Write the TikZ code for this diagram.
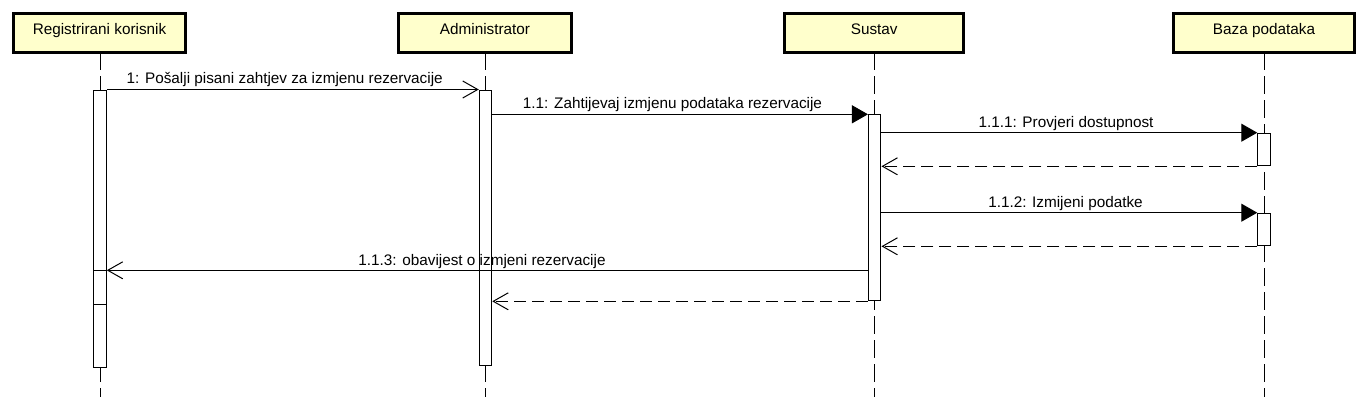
\documentclass[tikz,border=0pt]{standalone}
\usepackage{fontspec}
\setmainfont{Liberation Sans}
\usetikzlibrary{arrows.meta}
\definecolor{umlyellow}{HTML}{FFFFCC}
\begin{document}
\begin{tikzpicture}[x=1pt,y=-1pt,
  txt/.style={font=\fontsize{15.3}{18}\selectfont},
  actorbox/.style={draw, line width=3pt, fill=umlyellow, txt, inner sep=0pt,
    minimum height=38.7pt, text height=11pt, text depth=8.3pt},
  actbar/.style={draw, fill=white, line width=1pt, inner sep=0pt, minimum width=12.5pt, anchor=north},
  lifeline/.style={line width=1pt, dash pattern=on 18pt off 6pt},
  lbl/.style={txt, inner sep=0pt, anchor=base},
  synmsg/.style={line width=1pt, -{Triangle[length=16pt,width=18pt]}},
  openmsg/.style={line width=1pt, -{Straight Barb[length=15pt,width=17pt,line width=1pt]}},
  retmsg/.style={line width=1pt, dash pattern=on 12pt off 6pt, -{Straight Barb[length=15pt,width=17pt,line width=1pt,sep=0pt]}},
]
\useasboundingbox (0,0) rectangle (1368,410);
\fill[white] (0,0) rectangle (1368,410);

% lifelines
\coordinate (lR) at (100,52);   \coordinate (eR) at (100,397);
\coordinate (lA) at (485.5,52); \coordinate (eA) at (485.5,397);
\coordinate (lS) at (874.7,52); \coordinate (eS) at (874.7,397);
\coordinate (lB) at (1264,52);  \coordinate (eB) at (1264,397);
\draw[lifeline] (lR) -- (eR);
\draw[lifeline] (lA) -- (eA);
\draw[lifeline] (lS) -- (eS);
\draw[lifeline] (lB) -- (eB);

% actor boxes
\node[actorbox, minimum width=171.4pt] (R) at (99.5,33.15) {Registrirani korisnik};
\node[actorbox, minimum width=173.4pt] (A) at (485,33.15) {Administrator};
\node[actorbox, minimum width=178.7pt] (S) at (874.2,33.15) {Sustav};
\node[actorbox, minimum width=181pt] (B) at (1264,33.15) {Baza podataka};

% activation bars
\node[actbar, minimum height=277pt] (aR) at (100,89.5) {};
\node[actbar, minimum height=34pt] (aR2) at (100,270.3) {};
\node[actbar, minimum height=275pt] (aA) at (485.5,89.5) {};
\node[actbar, minimum height=186pt] (aS) at (874.7,114.3) {};
\node[actbar, minimum height=32.6pt] (aB1) at (1264,132.7) {};
\node[actbar, minimum height=32.6pt] (aB2) at (1264,212.7) {};

% messages
\draw[openmsg] (aR.north east) -- (aA.north west);
\node[lbl] (m1) at (284.7,83.8) {1: Pošalji pisani zahtjev za izmjenu rezervacije};

\draw[synmsg] (aA.east |- aS.north) -- (aS.north west);
\node[lbl] (m2) at (672.5,108.8) {1.1: Zahtijevaj izmjenu podataka rezervacije};

\draw[synmsg] (aS.east |- aB1.north) -- (aB1.north west);
\node[lbl] (m3) at (1066,127.2) {1.1.1: Provjeri dostupnost};
\draw[retmsg] (aB1.south west) -- (aS.east |- aB1.south);

\draw[synmsg] (aS.east |- aB2.north) -- (aB2.north west);
\node[lbl] (m4) at (1065.5,207.2) {1.1.2: Izmijeni podatke};
\draw[retmsg] (aB2.south west) -- (aS.east |- aB2.south);

\draw[openmsg] (aS.west |- aR2.north) -- (aR2.north east);
\node[lbl] (m5) at (482,265.5) {1.1.3: obavijest o izmjeni rezervacije};

\draw[retmsg] (aS.south west) -- (aA.east |- aS.south);
\end{tikzpicture}
\end{document}
